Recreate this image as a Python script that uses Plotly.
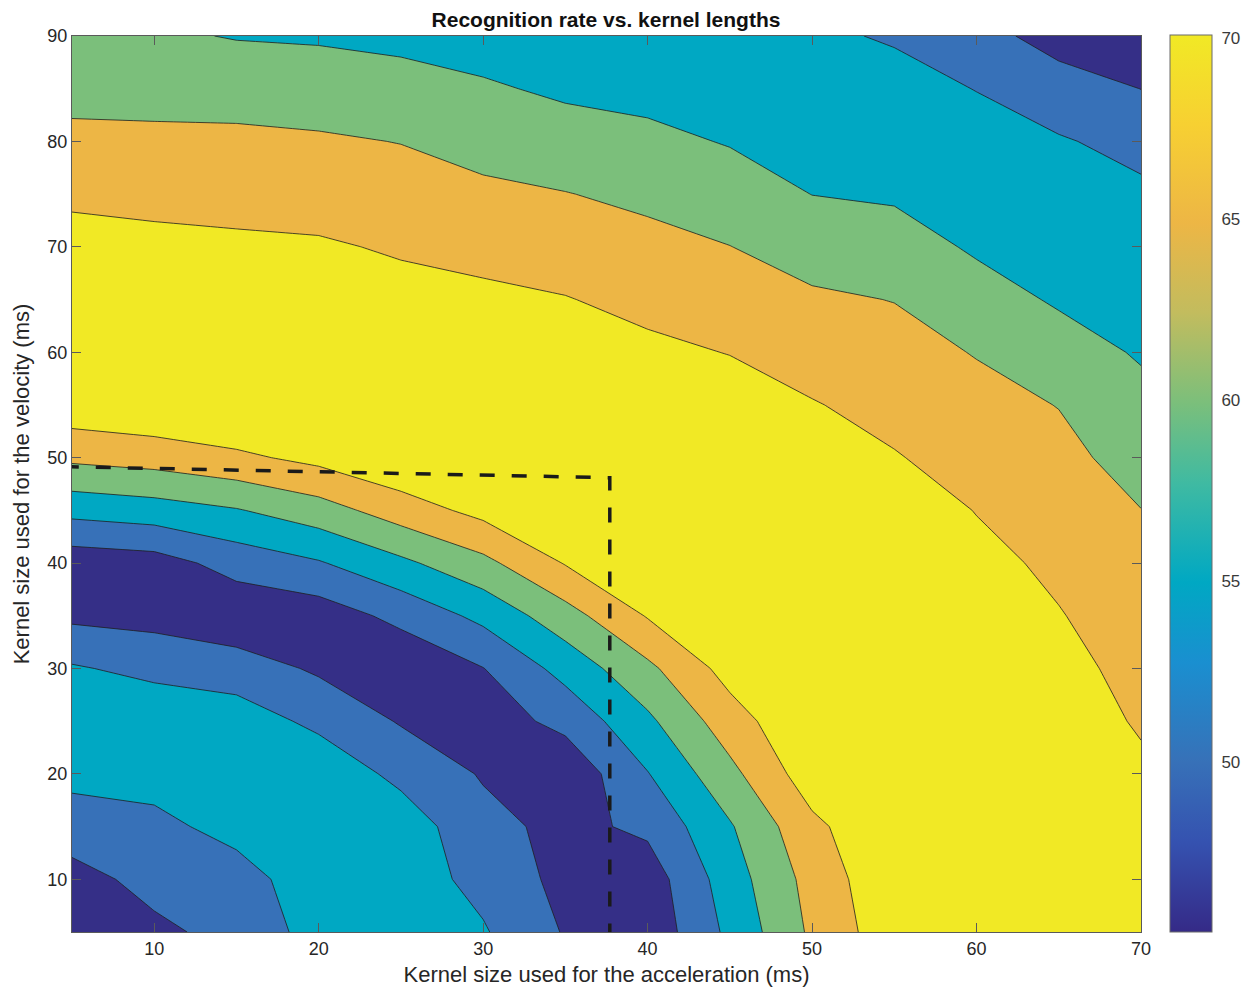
import plotly.graph_objects as go

# Grid of kernel sizes (ms)
accel_kernel = [5, 10, 15, 20, 25, 30, 35, 40, 45, 50, 55, 60, 65, 70]
veloc_kernel = [5, 10, 15, 20, 25, 30, 35, 40, 45, 50, 55, 60, 65, 70, 75, 80, 85, 90]

# Recognition rate (%), one row per velocity kernel size
rate_v05 = [45.5, 49.0, 51.5, 56.97, 57.0, 55.47, 49.6, 46.5, 56.15, 65.9, 73.2, 73.0, 72.5, 72.0]
rate_v10 = [48.3, 51.5, 53.35, 57.28, 57.5, 53.5, 48.5, 47.3, 57.6, 66.8, 74.0, 73.5, 73.0, 71.8]
rate_v15 = [52.4, 53.98, 56.3, 57.8, 57.78, 51.53, 48.6, 51.04, 59.5, 68.8, 74.5, 74.0, 73.0, 71.3]
rate_v20 = [56.5, 56.47, 57.6, 58.45, 53.69, 49.57, 46.3, 54.78, 63.6, 72.8, 75.0, 74.0, 72.5, 70.73]
rate_v25 = [57.5, 58.8, 57.5, 53.85, 49.59, 47.5, 51.43, 58.98, 67.75, 74.5, 75.0, 74.0, 72.0, 69.59]
rate_v30 = [55.53, 53.58, 52.5, 49.27, 46.0, 49.875, 56.76, 63.88, 71.9, 75.0, 75.0, 73.5, 71.5, 68.46]
rate_v35 = [48.95, 48.3, 46.3, 47.32, 51.39, 56.3, 63.0, 70.34, 74.0, 75.0, 74.5, 73.0, 70.27, 67.33]
rate_v40 = [46.94, 47.84, 51.97, 54.57, 58.93, 63.66, 70.3, 74.0, 75.0, 74.5, 74.0, 71.5, 68.94, 66.2]
rate_v45 = [56.57, 57.76, 59.66, 62.8, 67.5, 71.5, 74.0, 75.0, 75.0, 74.0, 73.0, 69.83, 67.6, 65.07]
rate_v50 = [66.05, 67.1, 68.97, 71.4, 74.4, 75.5, 76.0, 75.0, 74.0, 72.5, 70.29, 68.18, 66.28, 63.19]
rate_v55 = [73.2, 74.35, 75.5, 76.0, 76.5, 77.0, 76.0, 74.0, 72.2, 70.27, 68.5, 66.52, 64.88, 61.27]
rate_v60 = [73.5, 74.5, 75.5, 76.5, 76.5, 74.5, 74.0, 71.0, 69.86, 68.0, 66.71, 64.76, 61.9, 59.57]
rate_v65 = [73.0, 73.5, 74.0, 75.0, 71.48, 71.03, 70.2, 68.71, 67.47, 65.73, 64.88, 61.82, 59.5, 58.32]
rate_v70 = [71.86, 71.26, 70.82, 70.53, 69.5, 68.5, 67.68, 66.42, 65.07, 62.95, 61.92, 59.43, 58.13, 57.06]
rate_v75 = [69.04, 68.63, 68.41, 68.06, 67.1, 65.96, 65.15, 63.94, 62.38, 59.94, 59.44, 57.92, 56.76, 55.8]
rate_v80 = [66.23, 66.0, 66.0, 65.59, 64.88, 63.32, 62.1, 61.17, 59.7, 58.5, 57.84, 56.42, 55.4, 53.68]
rate_v85 = [63.4, 63.37, 63.07, 62.6, 61.83, 60.6, 59.2, 58.55, 57.5, 57.3, 56.24, 54.91, 52.43, 49.95]
rate_v90 = [60.6, 60.74, 59.73, 59.43, 58.78, 57.88, 57.0, 56.5, 55.8, 55.6, 54.65, 52.0, 47.8, 46.3]

rate_rows = [rate_v05, rate_v10, rate_v15, rate_v20, rate_v25, rate_v30, rate_v35, rate_v40, rate_v45,
             rate_v50, rate_v55, rate_v60, rate_v65, rate_v70, rate_v75, rate_v80, rate_v85, rate_v90]

# Contour levels and colorbar range
level_start, level_end, level_step = 50, 70, 5
cbar_min, cbar_max = 45.3, 70.08
cbar_ticks = [50, 55, 60, 65, 70]
x_ticks = [10, 20, 30, 40, 50, 60, 70]
y_ticks = [10, 20, 30, 40, 50, 60, 70, 80, 90]

# Selected operating point (dashed guide)
guide_x = [4.5, 37.7, 37.7]
guide_y = [49.15, 48.1, 4.3]

band_colors = ["#352f87", "#3771b8", "#00a8c3", "#7bbf7b", "#edb645", "#f1e925"]
band_scale = [[i / (len(band_colors) - 1), c] for i, c in enumerate(band_colors)]

parula_like = [
    [0.0, "#352a87"], [0.1, "#3552b0"], [0.19, "#3771b8"], [0.3, "#1a8fd0"],
    [0.39, "#00a8c3"], [0.5, "#3fbaa2"], [0.59, "#7bbf7b"], [0.69, "#c2bc5e"],
    [0.79, "#edb645"], [0.9, "#f7d032"], [1.0, "#f1e925"],
]

font_main = "Liberation Sans, Arial, sans-serif"
ink = "#262626"

fig = go.Figure()

fig.add_trace(go.Contour(
    x=accel_kernel, y=veloc_kernel, z=rate_rows,
    autocontour=False,
    contours=dict(start=level_start, end=level_end, size=level_step,
                  coloring="fill", showlines=True),
    colorscale=band_scale,
    line=dict(color="#1e1e1e", width=0.8, smoothing=0),
    showscale=False,
    hoverinfo="skip",
))

fig.add_trace(go.Scatter(
    x=guide_x, y=guide_y, mode="lines",
    line=dict(color="#1a1a1a", width=3.5, dash="15px,17px"),
    hoverinfo="skip", showlegend=False, cliponaxis=False,
))

# invisible carrier for the continuous colorbar
fig.add_trace(go.Scatter(
    x=[accel_kernel[0]], y=[veloc_kernel[0]], mode="markers",
    marker=dict(size=1, opacity=0, color=[cbar_min], cmin=cbar_min, cmax=cbar_max,
                colorscale=parula_like, showscale=True,
                colorbar=dict(
                    x=1.0275, xanchor="left", xpad=0,
                    y=1.001, yanchor="top", ypad=0,
                    lenmode="pixels", len=897,
                    thicknessmode="pixels", thickness=42,
                    outlinecolor="#6a6a6a", outlinewidth=1,
                    tickvals=cbar_ticks, ticks="outside", ticklen=6,
                    tickcolor="rgba(0,0,0,0)",
                    tickfont=dict(family=font_main, size=17, color="#3a3a3a"),
                )),
    hoverinfo="skip", showlegend=False,
))

axis_common = dict(
    showgrid=False, zeroline=False, showline=True, linecolor="#5a5a5a", linewidth=1,
    mirror="ticks", ticks="inside", ticklen=9, tickcolor="#5a5a5a", automargin=False,
    tickfont=dict(family=font_main, size=18, color=ink),
)

fig.update_layout(
    width=1250, height=981,
    margin=dict(l=64, r=117, t=28, b=57),
    paper_bgcolor="white", plot_bgcolor="white",
    title=dict(text="<b>Recognition rate vs. kernel lengths</b>",
               font=dict(family=font_main, size=21, color="#111"),
               x=0.4784, xanchor="center", xref="container",
               y=0.9878, yanchor="middle", yref="container"),
    xaxis=dict(range=[5, 70], tickvals=x_ticks, **axis_common,
               title=dict(text="Kernel size used for the acceleration (ms)",
                          font=dict(family=font_main, size=22, color=ink), standoff=9)),
    yaxis=dict(range=[5, 90], tickvals=y_ticks, **axis_common,
               title=dict(text="Kernel size used for the velocity (ms)",
                          font=dict(family=font_main, size=22, color=ink), standoff=11)),
    showlegend=False,
)

fig.write_html("out.html")
